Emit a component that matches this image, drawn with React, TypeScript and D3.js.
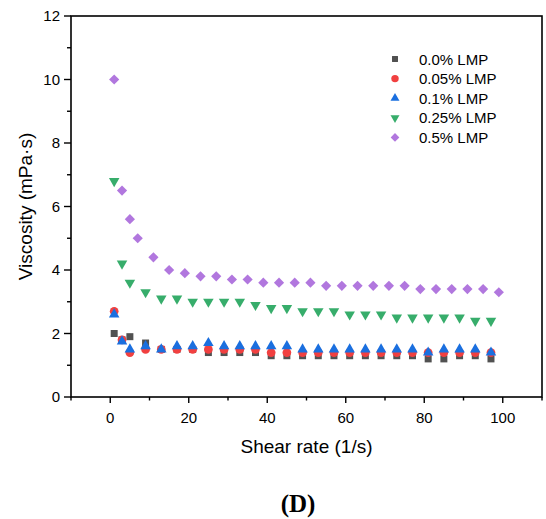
import React from "react";
import * as d3 from "d3";

const xA = [1, 3, 5, 9, 13, 17, 21, 25, 29, 33, 37, 41, 45, 49, 53, 57, 61, 65, 69, 73, 77, 81, 85, 89, 93, 97];
const xPurple = [1, 3, 5, 7, 11, 15, 19, 23, 27, 31, 35, 39, 43, 47, 51, 55, 59, 63, 67, 71, 75, 79, 83, 87, 91, 95, 99];

const lmp00 = [2.0, 1.8, 1.9, 1.7, 1.5, 1.5, 1.5, 1.4, 1.4, 1.4, 1.4, 1.3, 1.3, 1.3, 1.3, 1.3, 1.3, 1.3, 1.3, 1.3, 1.3, 1.2, 1.2, 1.3, 1.3, 1.2];
const lmp005 = [2.7, 1.8, 1.4, 1.5, 1.5, 1.5, 1.5, 1.5, 1.5, 1.5, 1.5, 1.4, 1.4, 1.4, 1.4, 1.4, 1.4, 1.4, 1.4, 1.4, 1.4, 1.4, 1.4, 1.4, 1.4, 1.4];
const lmp01 = [2.6, 1.75, 1.5, 1.6, 1.5, 1.6, 1.6, 1.7, 1.6, 1.6, 1.6, 1.6, 1.6, 1.5, 1.5, 1.5, 1.5, 1.5, 1.5, 1.5, 1.5, 1.4, 1.5, 1.5, 1.5, 1.4];
const lmp025 = [6.8, 4.2, 3.6, 3.3, 3.1, 3.1, 3.0, 3.0, 3.0, 3.0, 2.9, 2.8, 2.8, 2.7, 2.7, 2.7, 2.6, 2.6, 2.6, 2.5, 2.5, 2.5, 2.5, 2.5, 2.4, 2.4];
const lmp05 = [10.0, 6.5, 5.6, 5.0, 4.4, 4.0, 3.9, 3.8, 3.8, 3.7, 3.7, 3.6, 3.6, 3.6, 3.6, 3.5, 3.5, 3.5, 3.5, 3.5, 3.5, 3.4, 3.4, 3.4, 3.4, 3.4, 3.3];

const seriesNames = ["0.0% LMP", "0.05% LMP", "0.1% LMP", "0.25% LMP", "0.5% LMP"];
const seriesColors = ["#515151", "#F14040", "#1A6FDF", "#37AD6B", "#B177DE"];
const xTicks = [0, 20, 40, 60, 80, 100];
const yTicks = [0, 2, 4, 6, 8, 10, 12];

const W = 546, H = 519;
const left = 71, right = 542, top = 16, bottom = 397;

const FONT = "Arial, 'Liberation Sans', sans-serif";

function markerPath(kind: number): { d: string; rot: number } {
  if (kind === 0) return { d: d3.symbol(d3.symbolSquare, 49)()!, rot: 0 };
  if (kind === 1) return { d: d3.symbol(d3.symbolCircle, 60)()!, rot: 0 };
  if (kind === 2) return { d: d3.symbol(d3.symbolTriangle, 48)()!, rot: 0 };
  if (kind === 3) return { d: d3.symbol(d3.symbolTriangle, 48)()!, rot: 180 };
  return { d: d3.symbol(d3.symbolSquare, 52)()!, rot: 45 };
}

export default function App() {
  const x = d3.scaleLinear().domain([-10, 110]).range([left, right]);
  const y = d3.scaleLinear().domain([0, 12]).range([bottom, top]);

  const series = [
    { xs: xA, ys: lmp00 },
    { xs: xA, ys: lmp005 },
    { xs: xA, ys: lmp01 },
    { xs: xA, ys: lmp025 },
    { xs: xPurple, ys: lmp05 },
  ];

  const xMinor = d3.range(-10, 111, 10).filter((v) => !xTicks.includes(v));
  const yMinor = d3.range(1, 12, 2);

  return (
    <svg width={W} height={H} style={{ position: "absolute", left: 0, top: 0, background: "#fff" }}>
      <rect x={0} y={0} width={W} height={H} fill="#fff" />
      {/* data */}
      {series.map((s, si) => {
        const m = markerPath(si);
        return (
          <g key={si} fill={seriesColors[si]}>
            {s.ys.map((v, i) => (
              <path key={i} d={m.d} transform={`translate(${x(s.xs[i])},${y(v)}) rotate(${m.rot})`} />
            ))}
          </g>
        );
      })}
      {/* frame */}
      <rect x={left} y={top} width={right - left} height={bottom - top} fill="none" stroke="#000" strokeWidth={1.6} />
      {/* x ticks */}
      {xTicks.map((t) => (
        <g key={"xt" + t}>
          <line x1={x(t)} x2={x(t)} y1={bottom} y2={bottom + 6} stroke="#000" strokeWidth={1.4} />
          <text x={x(t)} y={bottom + 26} textAnchor="middle" fontFamily={FONT} fontSize={15} fill="#000">{t}</text>
        </g>
      ))}
      {xMinor.map((t) => (
        <line key={"xm" + t} x1={x(t)} x2={x(t)} y1={bottom} y2={bottom + 3.5} stroke="#000" strokeWidth={1.4} />
      ))}
      {/* y ticks */}
      {yTicks.map((t) => (
        <g key={"yt" + t}>
          <line x1={left - 7} x2={left} y1={y(t)} y2={y(t)} stroke="#000" strokeWidth={1.4} />
          <text x={left - 11} y={y(t) + 5} textAnchor="end" fontFamily={FONT} fontSize={15} fill="#000">{t}</text>
        </g>
      ))}
      {yMinor.map((t) => (
        <line key={"ym" + t} x1={left - 4} x2={left} y1={y(t)} y2={y(t)} stroke="#000" strokeWidth={1.4} />
      ))}
      {/* axis titles */}
      <text x={(left + right) / 2} y={453} textAnchor="middle" fontFamily={FONT} fontSize={19} fill="#000">Shear rate (1/s)</text>
      <text transform={`translate(32,${(top + bottom) / 2}) rotate(-90)`} textAnchor="middle" fontFamily={FONT} fontSize={19} fill="#000">Viscosity (mPa·s)</text>
      {/* legend */}
      {seriesNames.map((name, i) => {
        const m = markerPath(i);
        const ly = 59 + i * 19.6;
        return (
          <g key={"lg" + i}>
            <path d={m.d} fill={seriesColors[i]} transform={`translate(395,${ly}) rotate(${m.rot}) scale(0.85)`} />
            <text x={419} y={ly + 5.5} fontFamily={FONT} fontSize={15} fill="#000">{name}</text>
          </g>
        );
      })}
      {/* panel label */}
      <text x={298} y={512} textAnchor="middle" fontFamily="'Times New Roman', 'Liberation Serif', serif" fontWeight="bold" fontSize={25} fill="#000">(D)</text>
    </svg>
  );
}
